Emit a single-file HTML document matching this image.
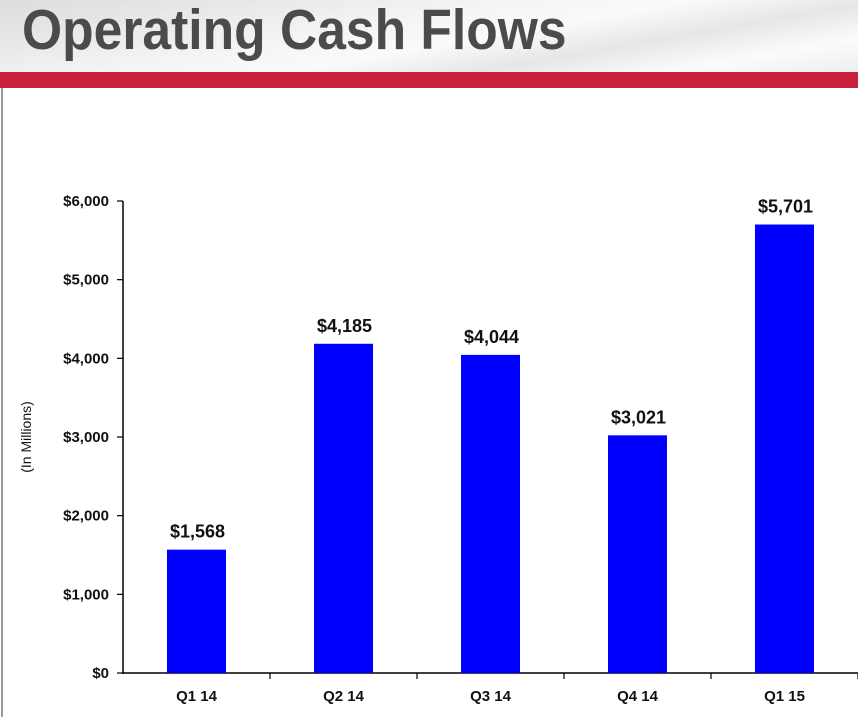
<!DOCTYPE html>
<html><head><meta charset="utf-8"><style>
html,body{margin:0;padding:0;background:#fff}
body{width:858px;height:717px;overflow:hidden;position:relative;font-family:"Liberation Sans",Arial,sans-serif}
#hdr{position:absolute;left:0;top:0;width:858px;height:72px;overflow:hidden;background:linear-gradient(170deg,#dcdcdc 0%,#f4f4f4 40%,#fafafa 55%,#e6e6e6 70%,#fbfbfb 85%,#eeeeee 100%)}
#title{position:absolute;left:22px;top:2px;font-size:57px;line-height:1;font-weight:bold;color:#4b4b4b;white-space:nowrap;transform:scaleX(0.905);transform-origin:left}
#red{position:absolute;left:0;top:72px;width:858px;height:16px;background:#c8203c}
#lb{position:absolute;left:1px;top:88px;width:2px;height:629px;background:#9a9a9a}
</style></head><body>
<div id="hdr"><div id="title">Operating Cash Flows</div></div>
<div id="red"></div>
<div id="lb"></div>
<svg id="chart" width="858" height="717" style="position:absolute;left:0;top:0"></svg>
<script>
const categories=["Q1 14","Q2 14","Q3 14","Q4 14","Q1 15"];
const values=[1568,4185,4044,3021,5701];
const valueLabels=["$1,568","$4,185","$4,044","$3,021","$5,701"];
const tickValues=[0,1000,2000,3000,4000,5000,6000];
const tickLabels=["$0","$1,000","$2,000","$3,000","$4,000","$5,000","$6,000"];
const NS="http://www.w3.org/2000/svg";
const svg=document.getElementById('chart');
const x0=123,y0=673,yTop=201,yMax=6000,band=147,barW=59;
function y(v){return y0-(v/yMax)*(y0-yTop);}
function xc(i){return x0+band*i+band/2;}
function mk(t,a){const e=document.createElementNS(NS,t);for(const k in a)e.setAttribute(k,a[k]);svg.appendChild(e);return e;}
let ax=mk('line',{x1:x0,y1:yTop,x2:x0,y2:y0+1,stroke:'#000','stroke-width':1.5});


let bx=mk('line',{x1:x0,y1:y0,x2:858,y2:y0,stroke:'#000','stroke-width':1.5});


tickValues.forEach((v,i)=>{
 let t=mk('line',{x1:x0-6,y1:y(v),x2:x0,y2:y(v),stroke:'#000','stroke-width':1.2});
 
 
 let l=mk('text',{x:x0-14,y:y(v)+5,'text-anchor':'end','font-size':15,'font-weight':'bold',fill:'#111'});
 l.textContent=tickLabels[i];
 
 
});
for(let i=1;i<=categories.length;i++){
 let t=mk('line',{x1:x0+band*i,y1:y0,x2:x0+band*i,y2:y0+6,stroke:'#000','stroke-width':1.2});
 
 
}
categories.forEach((c,i)=>{
 let r=mk('rect',{x:xc(i)-barW/2,y:y(values[i]),width:barW,height:y0-y(values[i]),fill:'#0000ff'});
 
 
 let vl=mk('text',{x:xc(i)+1,y:y(values[i])-12,'text-anchor':'middle','font-size':18,'font-weight':'bold',fill:'#111'});
 vl.textContent=valueLabels[i];
 
 
 let cl=mk('text',{x:xc(i),y:y0+28,'text-anchor':'middle','font-size':15,'font-weight':'bold',fill:'#111'});
 cl.textContent=c;
 
 
});
let yt=mk('text',{x:0,y:0,'text-anchor':'middle','font-size':14,fill:'#111',transform:'translate(31,437) rotate(-90)'});
yt.textContent='(In Millions)';


</script>
</body></html>
